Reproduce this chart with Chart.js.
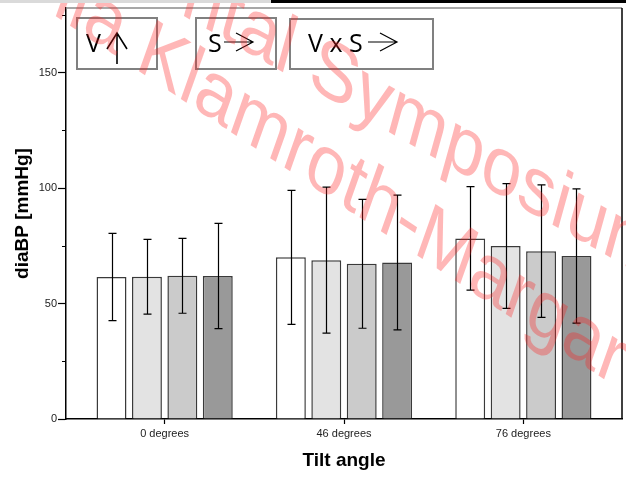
<!DOCTYPE html>
<html>
<head>
<meta charset="utf-8">
<script src="https://cdn.jsdelivr.net/npm/chart.js@4.4.1/dist/chart.umd.min.js"></script>
<style>
  html, body { margin: 0; padding: 0; background: #fff; }
  #wrap { position: relative; width: 626px; height: 483px; overflow: hidden; }
  #stripL { position: absolute; left: 0; top: 0; width: 271px; height: 3px; background: #dadada; }
  #stripR { position: absolute; left: 271px; top: 0; width: 355px; height: 3px; background: #000; }
</style>
</head>
<body>
<div id="wrap">
  <canvas id="chart" width="626" height="483"></canvas>
  <div id="stripL"></div><div id="stripR"></div>
</div>
<script>
// categories (x) and the four bar series, mean +/- SD
const categories = ['0 degrees', '46 degrees', '76 degrees'];
const meanA = [61.5, 70.0, 78.2];
const meanB = [61.6, 68.8, 74.9];
const meanC = [62.0, 67.2, 72.7];
const meanD = [61.9, 67.8, 70.6];
const sdA = [18.9, 29.0, 22.4];
const sdB = [16.2, 31.6, 27.0];
const sdC = [16.2, 27.9, 28.7];
const sdD = [22.8, 29.2, 29.1];
const fills = ['#ffffff', '#e3e3e3', '#cbcbcb', '#999999'];

const yTicksMajor = [0, 50, 100, 150];
const boxLabels = ['V', 'S', 'V x S'];

const FONT = 'Liberation Sans';
const means = [meanA, meanB, meanC, meanD];
const sds = [sdA, sdB, sdC, sdD];

// error bars (mean +/- sd), drawn on top of the bars
const errorBars = {
  id: 'errorBars',
  afterDatasetsDraw(chart) {
    const { ctx } = chart;
    const y = chart.scales.y;
    ctx.save();
    ctx.strokeStyle = '#000';
    ctx.lineWidth = 1.2;
    chart.data.datasets.forEach((ds, di) => {
      chart.getDatasetMeta(di).data.forEach((bar, i) => {
        const m = means[di][i], s = sds[di][i];
        const hi = y.getPixelForValue(m + s), lo = y.getPixelForValue(m - s);
        const x = Math.round(bar.x) + 0.5;
        ctx.beginPath();
        ctx.moveTo(x, hi); ctx.lineTo(x, lo);
        ctx.moveTo(x - 4, hi); ctx.lineTo(x + 4, hi);
        ctx.moveTo(x - 4, lo); ctx.lineTo(x + 4, lo);
        ctx.stroke();
      });
    });
    ctx.restore();
  }
};

// frame: top/right border + minor y ticks
const frame = {
  id: 'frame',
  afterDraw(chart) {
    const { ctx, chartArea: a } = chart;
    const y = chart.scales.y;
    ctx.save();
    ctx.strokeStyle = '#8a8a8a';
    ctx.lineWidth = 1.5;
    ctx.beginPath(); ctx.moveTo(a.left, a.top); ctx.lineTo(a.right, a.top); ctx.stroke();
    ctx.strokeStyle = '#000';
    ctx.beginPath(); ctx.moveTo(a.right, a.top); ctx.lineTo(a.right, a.bottom); ctx.stroke();
    ctx.lineWidth = 1;
    [25, 75, 125, 175].forEach(v => {
      const py = Math.round(y.getPixelForValue(v)) + 0.5;
      ctx.beginPath(); ctx.moveTo(a.left - 4, py); ctx.lineTo(a.left, py); ctx.stroke();
    });
    ctx.restore();
  }
};

// the three boxed labels and the watermark
const overlay = {
  id: 'overlay',
  afterDraw(chart) {
    const { ctx } = chart;
    ctx.save();
    ctx.strokeStyle = '#808080';
    ctx.lineWidth = 2;
    ctx.strokeRect(77, 18, 80, 51);
    ctx.strokeRect(196, 18, 80, 51);
    ctx.strokeRect(290, 19, 143, 50);

    ctx.fillStyle = '#000';
    ctx.font = '25px "Open Sans"';
    ctx.textBaseline = 'alphabetic';
    ctx.fillText(boxLabels[0], 86, 52);
    ctx.fillText(boxLabels[1], 208, 52);
    ctx.fillText(boxLabels[2], 308, 52);

    ctx.strokeStyle = '#000';
    ctx.lineWidth = 1.6;
    ctx.beginPath();
    ctx.moveTo(117, 64); ctx.lineTo(117, 33);
    ctx.moveTo(107, 49); ctx.lineTo(117, 33); ctx.lineTo(127, 49);
    ctx.stroke();
    ctx.lineWidth = 1.2;
    [[224, 253], [368, 397]].forEach(([x0, x1]) => {
      ctx.beginPath();
      ctx.moveTo(x0, 42); ctx.lineTo(x1, 42);
      ctx.moveTo(x1 - 17, 33); ctx.lineTo(x1, 42); ctx.lineTo(x1 - 17, 51);
      ctx.stroke();
    });

    // watermark
    const wm = (ax, ay, deg, size, before, after) => {
      ctx.save();
      ctx.translate(ax, ay);
      ctx.rotate(deg * Math.PI / 180);
      ctx.transform(1, 0, 0.25, 1, 0, 0);
      ctx.font = size + 'px "' + FONT + '"';
      ctx.fillStyle = 'rgba(255, 30, 30, 0.32)';
      ctx.textAlign = 'right';
      ctx.fillText(before, 0, 0);
      ctx.textAlign = 'left';
      ctx.fillText(after, 0, 0);
      ctx.restore();
    };
    wm(440, 161, 29.5, 77, 'ntal Sym', 'posium');
    wm(412, 252, 33.5, 77, 'lla Klamroth-', 'Margar');
    ctx.restore();
  }
};

new Chart(document.getElementById('chart'), {
  type: 'bar',
  data: {
    datasets: means.map((m, di) => ({
      data: m.map((v, i) => ({ x: i, y: v })),
      backgroundColor: fills[di],
      borderColor: '#3a3a3a',
      borderWidth: 1.5,
      categoryPercentage: 0.79,
      barPercentage: 0.845,
    })),
  },
  options: {
    responsive: false,
    animation: false,
    devicePixelRatio: 1,
    layout: { padding: { top: 8, right: 4, left: 0, bottom: 0 } },
    plugins: { legend: { display: false }, tooltip: { enabled: false } },
    scales: {
      x: {
        type: 'linear', min: -0.55, max: 2.55, offset: false,
        ticks: {
          stepSize: 1, includeBounds: false, autoSkip: false, maxRotation: 0, padding: 3,
          color: '#222', font: { family: FONT, size: 11 },
          callback: v => categories[v] ?? '',
        },
        grid: { drawOnChartArea: false, offset: false, tickLength: 5, tickColor: '#000', tickWidth: 1.2 },
        border: { color: '#000', width: 1.5 },
        title: {
          display: true, text: 'Tilt angle', color: '#000',
          font: { family: FONT, size: 19, weight: 'bold' }, padding: { top: 0, bottom: 11 },
        },
        afterFit: s => { s.height = 64; },
      },
      y: {
        min: 0, max: 178,
        ticks: {
          stepSize: 25, includeBounds: false, padding: 1,
          color: '#222', font: { family: FONT, size: 11 },
          callback: v => yTicksMajor.includes(v) ? String(v) : '',
        },
        grid: {
          drawOnChartArea: false, tickLength: 8, tickWidth: 1.2,
          tickColor: c => (c.tick && yTicksMajor.includes(c.tick.value)) ? '#000' : 'rgba(0,0,0,0)',
        },
        border: { color: '#000', width: 1.5 },
        title: {
          display: true, text: 'diaBP [mmHg]', color: '#000',
          font: { family: FONT, size: 19, weight: 'bold' }, padding: { top: 11.5, bottom: 0 },
        },
        afterFit: s => { s.width = 66; },
      },
    },
  },
  plugins: [errorBars, frame, overlay],
});
</script>
</body>
</html>
